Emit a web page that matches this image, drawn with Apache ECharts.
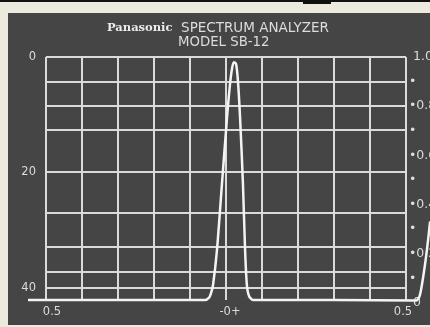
<!DOCTYPE html>
<html>
<head>
<meta charset="utf-8">
<script src="https://cdn.jsdelivr.net/npm/echarts@6/dist/echarts.min.js"></script>
<style>html,body{margin:0;padding:0;background:#ecE9dd;}#c{width:430px;height:327px;}</style>
</head>
<body>
<div id="c"></div>
<script>
// x position relative to centre frequency (-0.5 .. 0.5), trace level in dB below reference
var traceX = [-0.55, -0.30, -0.10, -0.058, -0.047, -0.042, -0.036, -0.025, -0.011, 0.003, 0.011, 0.017, 0.022, 0.028, 0.033, 0.039, 0.047, 0.053, 0.058, 0.064, 0.075, 0.30, 0.528, 0.538, 0.548, 0.558, 0.567];
var traceDb = [42.1, 42.1, 42.1, 42.1, 41.7, 41.0, 39.5, 33.4, 21.8, 10.4, 4.8, 1.9, 0.9, 1.2, 4.0, 10.4, 21.8, 33.4, 39.5, 41.4, 42.1, 42.1, 42.2, 41.4, 38.0, 33.5, 28.5];
// graticule: vertical divisions and horizontal lines (dB)
var graticuleX = [-0.5, -0.4, -0.3, -0.2, -0.1, 0, 0.1, 0.2, 0.3, 0.4, 0.5];
var graticuleDb = [0, 4.33, 8.48, 12.64, 19.9, 27.0, 32.9, 37.2, 40];
var bottomDb = 42.1;
var xLabelTicks = [-0.5, 0, 0.5];
var leftTicks = [0, 20, 40];
var titleBrand = 'Panasonic';
var titleMain = 'SPECTRUM ANALYZER';
var titleModel = 'MODEL SB-12';

var chart = echarts.init(document.getElementById('c'));
var lineCol = '#dadada';
var textCol = '#dcdcdc';
var gratLines = [];
graticuleX.forEach(function (x) { gratLines.push([{coord: [x, 0]}, {coord: [x, bottomDb]}]); });
graticuleDb.forEach(function (v) { gratLines.push([{coord: [-0.5, v]}, {coord: [0.5, v]}]); });

chart.setOption({
  backgroundColor: '#ecE9dd',
  animation: false,
  graphic: [
    {type:'rect', shape:{x:8, y:13, width:422, height:312}, style:{fill:'#454545'}, z:-10},
    {type:'rect', shape:{x:0, y:0, width:430, height:2}, style:{fill:'#111'}, z:-10},
    {type:'rect', shape:{x:303, y:0, width:28, height:4}, style:{fill:'#111'}, z:-10}
  ],
  title: [
    {text: '{b|' + titleBrand + '}  ' + titleMain, left: 107, top: 21, padding: 0,
     textStyle: {color: textCol, fontFamily: 'DejaVu Sans', fontSize: 13.5, fontWeight: 'normal',
       rich: {b: {color: '#ececec', fontFamily: 'DejaVu Serif', fontWeight: 'bold', fontSize: 11.5}}}},
    {text: titleModel, left: 178, top: 36, padding: 0,
     textStyle: {color: textCol, fontFamily: 'DejaVu Sans', fontSize: 13.3, fontWeight: 'normal'}}
  ],
  grid: {left: 28, right: 0, top: 57, bottom: 24, containLabel: false, outerBoundsMode: 'none'},
  xAxis: {
    type: 'value', min: -0.55, max: 0.5667,
    axisLine: {show: false}, axisTick: {show: false}, splitLine: {show: false},
    axisLabel: {customValues: xLabelTicks, color: textCol, fontFamily: 'DejaVu Sans', fontSize: 11.5, margin: 3,
      formatter: function (v) {
        var t = Math.round(v * 10);
        if (t === -5) return '{l|0.5}';
        if (t === 5) return '{r|0.5}';
        if (t === 0) return '{c|-0+}';
        return '';
      },
      rich: {l: {padding: [0, 0, 0, 12], fontSize: 11.5, color: textCol},
             c: {padding: [0, 0, 0, 8], fontSize: 11.5, color: textCol},
             r: {padding: [0, 6, 0, 0], fontSize: 11.5, color: textCol}}}
  },
  yAxis: [
    {type: 'value', inverse: true, min: 0, max: 42.62, offset: -18,
     axisLine: {show: false}, axisTick: {show: false}, splitLine: {show: false},
     axisLabel: {customValues: leftTicks, color: textCol, fontFamily: 'DejaVu Sans', fontSize: 11.5, margin: 10}},
    {type: 'value', position: 'right', min: 0, max: 1, interval: 0.1, offset: -24,
     axisLine: {show: false}, axisTick: {show: false}, splitLine: {show: false},
     axisLabel: {color: textCol, fontFamily: 'DejaVu Sans', fontSize: 12.5, margin: 3, showMaxLabel: true,
       formatter: function (v) {
         var t = Math.round(v * 10);
         if (t % 2) return '•';
         if (t === 0) return ' 0';
         if (t === 10) return ' 1.0';
         return '•' + (t / 10).toFixed(1);
       }}}
  ],
  series: [
    {type: 'line', data: [], z: 1, silent: true,
     markLine: {silent: true, symbol: 'none', label: {show: false},
       lineStyle: {color: lineCol, width: 2, type: 'solid'},
       data: gratLines}},
    {type: 'line', z: 5, showSymbol: false, smooth: 0.25,
     lineStyle: {color: '#f4f4f4', width: 2.5},
     data: traceX.map(function (x, i) { return [x, traceDb[i]]; })}
  ]
});
</script>
</body>
</html>
